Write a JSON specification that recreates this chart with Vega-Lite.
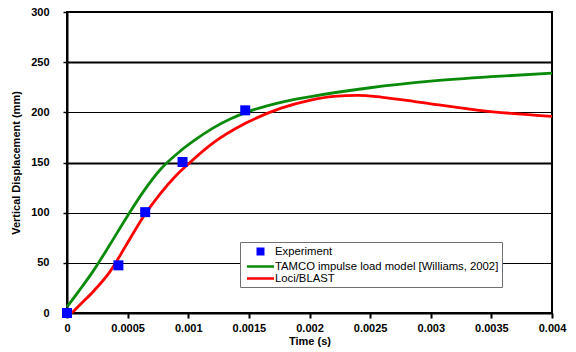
{
  "$schema": "https://vega.github.io/schema/vega-lite/v6.json",
  "autosize": {"type": "none"},
  "width": 485,
  "height": 301,
  "padding": {"left": 67, "top": 12, "right": 24, "bottom": 39},
  "background": "white",
  "config": {
    "view": {"stroke": "black", "strokeWidth": 2},
    "font": "Liberation Sans"
  },
  "datasets": {
    "lines": [
      {"t": 0, "y": 6, "series": "TAMCO impulse load model [Williams, 2002]"},
      {"t": 0.000105, "y": 23, "series": "TAMCO impulse load model [Williams, 2002]"},
      {"t": 0.000217, "y": 42, "series": "TAMCO impulse load model [Williams, 2002]"},
      {"t": 0.000353, "y": 68, "series": "TAMCO impulse load model [Williams, 2002]"},
      {"t": 0.00049, "y": 95, "series": "TAMCO impulse load model [Williams, 2002]"},
      {"t": 0.00063, "y": 121, "series": "TAMCO impulse load model [Williams, 2002]"},
      {"t": 0.00077, "y": 143, "series": "TAMCO impulse load model [Williams, 2002]"},
      {"t": 0.00093, "y": 161, "series": "TAMCO impulse load model [Williams, 2002]"},
      {"t": 0.00105, "y": 172, "series": "TAMCO impulse load model [Williams, 2002]"},
      {"t": 0.0012, "y": 184, "series": "TAMCO impulse load model [Williams, 2002]"},
      {"t": 0.00135, "y": 193.5, "series": "TAMCO impulse load model [Williams, 2002]"},
      {"t": 0.0015, "y": 201, "series": "TAMCO impulse load model [Williams, 2002]"},
      {"t": 0.00165, "y": 206.5, "series": "TAMCO impulse load model [Williams, 2002]"},
      {"t": 0.0018, "y": 211, "series": "TAMCO impulse load model [Williams, 2002]"},
      {"t": 0.002, "y": 215.5, "series": "TAMCO impulse load model [Williams, 2002]"},
      {"t": 0.0025, "y": 224.5, "series": "TAMCO impulse load model [Williams, 2002]"},
      {"t": 0.003, "y": 231, "series": "TAMCO impulse load model [Williams, 2002]"},
      {"t": 0.0035, "y": 235.5, "series": "TAMCO impulse load model [Williams, 2002]"},
      {"t": 0.004, "y": 239, "series": "TAMCO impulse load model [Williams, 2002]"},
      {"t": 0.00004, "y": 0, "series": "Loci/BLAST"},
      {"t": 0.000105, "y": 8, "series": "Loci/BLAST"},
      {"t": 0.000217, "y": 21.5, "series": "Loci/BLAST"},
      {"t": 0.000353, "y": 41, "series": "Loci/BLAST"},
      {"t": 0.00049, "y": 68, "series": "Loci/BLAST"},
      {"t": 0.00063, "y": 96, "series": "Loci/BLAST"},
      {"t": 0.00077, "y": 119, "series": "Loci/BLAST"},
      {"t": 0.0009, "y": 137, "series": "Loci/BLAST"},
      {"t": 0.00101, "y": 149.5, "series": "Loci/BLAST"},
      {"t": 0.0012, "y": 169, "series": "Loci/BLAST"},
      {"t": 0.00148, "y": 189.5, "series": "Loci/BLAST"},
      {"t": 0.00176, "y": 204, "series": "Loci/BLAST"},
      {"t": 0.002, "y": 212, "series": "Loci/BLAST"},
      {"t": 0.0022, "y": 216, "series": "Loci/BLAST"},
      {"t": 0.0024, "y": 217, "series": "Loci/BLAST"},
      {"t": 0.0026, "y": 215, "series": "Loci/BLAST"},
      {"t": 0.0028, "y": 212, "series": "Loci/BLAST"},
      {"t": 0.003, "y": 208.5, "series": "Loci/BLAST"},
      {"t": 0.0034, "y": 202, "series": "Loci/BLAST"},
      {"t": 0.004, "y": 196, "series": "Loci/BLAST"}
    ],
    "exp": [
      {"t": 0, "y": 0, "series": "Experiment"},
      {"t": 0.000424, "y": 47.5, "series": "Experiment"},
      {"t": 0.000645, "y": 100.5, "series": "Experiment"},
      {"t": 0.000953, "y": 150.5, "series": "Experiment"},
      {"t": 0.00147, "y": 202, "series": "Experiment"}
    ]
  },
  "encoding": {
    "x": {
      "field": "t", "type": "quantitative",
      "scale": {"domain": [0, 0.004], "nice": false, "zero": false},
      "axis": {
        "title": "Time (s)",
        "values": [0, 0.0005, 0.001, 0.0015, 0.002, 0.0025, 0.003, 0.0035, 0.004],
        "format": "~g",
        "grid": false,
        "domainColor": "black", "domainWidth": 2,
        "tickColor": "black", "tickWidth": 2, "tickSize": 5,
        "labelFont": "Liberation Sans", "labelFontSize": 11, "labelFontWeight": "bold", "labelColor": "black",
        "labelPadding": 4, "labelOverlap": false, "labelFlush": false,
        "titleFont": "Liberation Sans", "titleFontSize": 11, "titleFontWeight": "bold", "titleColor": "black",
        "titlePadding": 2
      }
    },
    "y": {
      "field": "y", "type": "quantitative",
      "scale": {"domain": [0, 300], "nice": false},
      "axis": {
        "title": "Vertical Displacement (mm)",
        "values": [0, 50, 100, 150, 200, 250, 300],
        "grid": true, "gridColor": "black",
        "gridWidth": {"condition": {"test": "datum.value === 250 || datum.value === 150", "value": 2}, "value": 1.2},
        "domainColor": "black", "domainWidth": 2,
        "tickColor": "black", "tickWidth": 1.5, "tickSize": 4,
        "labelFont": "Liberation Sans", "labelFontSize": 11, "labelFontWeight": "bold", "labelColor": "black",
        "labelPadding": 14,
        "titleFont": "Liberation Sans", "titleFontSize": 11, "titleFontWeight": "bold", "titleColor": "black",
        "titlePadding": 9
      }
    },
    "color": {
      "field": "series", "type": "nominal",
      "scale": {
        "domain": ["Experiment", "TAMCO impulse load model [Williams, 2002]", "Loci/BLAST"],
        "range": ["#0000ff", "#0a8a0a", "#ff0000"]
      },
      "legend": {
        "title": null,
        "orient": "none",
        "legendX": 173,
        "legendY": 230,
        "fillColor": "white",
        "strokeColor": "#707070",
        "padding": 3,
        "rowPadding": 0,
        "symbolSize": 100,
        "symbolOffset": 11,
        "symbolStrokeWidth": 2.5,
        "labelFont": "Liberation Sans",
        "labelFontSize": 11.3,
        "labelColor": "black",
        "labelOffset": 8,
        "labelLimit": 400,
        "encode": {
          "symbols": {
            "update": {
              "shape": {"signal": "datum.label === 'Experiment' ? 'square' : 'M-2.7,0H2.7'"},
              "size": {"signal": "datum.label === 'Experiment' ? 30 : 100"},
              "fill": {"signal": "datum.label === 'Experiment' ? '#0000ff' : 'transparent'"},
              "stroke": {"signal": "datum.label === 'Experiment' ? 'transparent' : (datum.label === 'Loci/BLAST' ? '#ff0000' : '#0a8a0a')"},
              "strokeWidth": {"value": 2.5},
              "opacity": {"value": 1}
            }
          }
        }
      }
    }
  },
  "layer": [
    {
      "data": {"name": "lines"},
      "mark": {"type": "line", "strokeWidth": 2.8, "interpolate": "monotone"}
    },
    {
      "data": {"name": "exp"},
      "mark": {"type": "point", "shape": "square", "filled": true, "size": 100, "opacity": 1}
    }
  ]
}
